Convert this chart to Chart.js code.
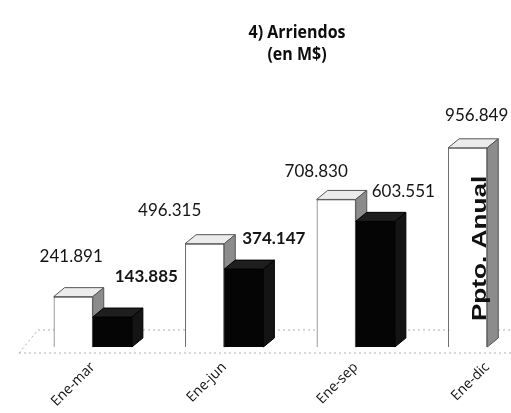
<!DOCTYPE html>
<html><head><meta charset="utf-8">
<script src="https://cdn.jsdelivr.net/npm/chart.js@4.4.1/dist/chart.umd.min.js"></script>
<style>
html,body{margin:0;padding:0;background:#fff;overflow:hidden;}
#wrap{width:511px;height:413px;overflow:hidden;position:relative;background:#fff;}
canvas{display:block;}
</style></head><body>
<div id="wrap"><canvas id="c" width="560" height="413"></canvas></div>
<script>
// Arriendos acumulados (en M$)
const periodos = ['Ene-mar', 'Ene-jun', 'Ene-sep', 'Ene-dic'];
const presupuesto = [241891, 496315, 708830, 956849];
const ejecutado = [143885, 374147, 603551, null];
const tituloLineas = ['4) Arriendos', '(en M$)'];
const rotuloAnual = 'Ppto. Anual';

const DX = 11, DY = 9; // profundidad de las caras 3D

function fmt(v) {
  return String(Math.round(v)).replace(/\B(?=(\d{3})+(?!\d))/g, '.');
}

function caras(ctx, bar, st) {
  const { x, y, base, width } = bar.getProps(['x', 'y', 'base', 'width'], true);
  const l = x - width / 2, r = x + width / 2;
  ctx.save();
  ctx.lineWidth = 1;
  ctx.strokeStyle = st.borde;
  ctx.beginPath();
  ctx.moveTo(l, y); ctx.lineTo(l + DX, y - DY); ctx.lineTo(r + DX, y - DY); ctx.lineTo(r, y);
  ctx.closePath();
  ctx.fillStyle = st.tapa; ctx.fill(); ctx.stroke();
  ctx.beginPath();
  ctx.moveTo(r, y); ctx.lineTo(r + DX, y - DY); ctx.lineTo(r + DX, base - DY); ctx.lineTo(r, base);
  ctx.closePath();
  ctx.fillStyle = st.lado; ctx.fill(); ctx.stroke();
  ctx.restore();
}

// piso, caras superior y lateral de cada barra
const caras3d = {
  id: 'caras3d',
  beforeDatasetsDraw(chart) {
    const { ctx, chartArea: a } = chart;
    ctx.save();
    ctx.strokeStyle = '#b0b0b0';
    ctx.lineWidth = 1;
    ctx.setLineDash([2, 3]);
    ctx.beginPath();
    ctx.moveTo(a.left + DX, a.bottom - DY - 8);
    ctx.lineTo(a.right, a.bottom - DY - 8);
    ctx.stroke();
    ctx.beginPath();
    ctx.moveTo(a.left - 8, a.bottom + 6);
    ctx.lineTo(a.right, a.bottom + 6);
    ctx.stroke();
    ctx.beginPath();
    ctx.moveTo(a.left - 8, a.bottom + 6);
    ctx.lineTo(a.left + DX, a.bottom - DY - 8);
    ctx.stroke();
    ctx.restore();
  },
  afterDatasetsDraw(chart, args, opts) {
    const ctx = chart.ctx;
    const blancas = chart.getDatasetMeta(0);
    const negras = chart.getDatasetMeta(1);
    blancas.data.forEach((bar, i) => {
      if (presupuesto[i] != null) caras(ctx, bar, opts.estilos[0]);
    });
    // las barras negras van delante de la cara lateral de las blancas
    negras.data.forEach((bar, i) => {
      if (ejecutado[i] == null) return;
      bar.draw(ctx);
      caras(ctx, bar, opts.estilos[1]);
    });
  }
};

// títulos, valores y rótulo del presupuesto anual
const textos = {
  id: 'textos',
  afterDraw(chart, args, opts) {
    const ctx = chart.ctx;
    ctx.save();
    ctx.fillStyle = '#0d0d0d';
    ctx.textAlign = 'center';
    ctx.textBaseline = 'middle';
    ctx.font = "bold 17px 'Open Sans', sans-serif";
    const ancho0 = ctx.measureText(tituloLineas[0]).width;
    const esc = opts.tituloAncho / ancho0;
    tituloLineas.forEach((t, k) => {
      ctx.save();
      ctx.translate(opts.tituloX, opts.tituloY[k]);
      ctx.scale(esc, 1);
      ctx.fillText(t, 0, 0);
      ctx.restore();
    });

    chart.data.datasets.forEach((ds, di) => {
      const meta = chart.getDatasetMeta(di);
      const st = opts.valores[di];
      meta.data.forEach((bar, i) => {
        const v = ds.data[i];
        if (v == null) return;
        const d = st.desplaza[i];
        ctx.font = (st.negrita[i] ? 'bold ' : '') + "17px Lato, 'Open Sans', sans-serif";
        ctx.fillStyle = '#141414';
        ctx.fillText(fmt(v), bar.x + d[0], bar.y + d[1]);
      });
    });

    // rótulo vertical sobre la barra anual
    const ult = chart.getDatasetMeta(0).data[presupuesto.length - 1];
    const largo = (ult.base - ult.y) * 0.73;
    ctx.translate(ult.x + 13, (ult.y + ult.base) / 2 + 1);
    ctx.rotate(-Math.PI / 2);
    ctx.font = "bold 20px 'Liberation Sans', Arial, sans-serif";
    const w = ctx.measureText(rotuloAnual).width;
    ctx.scale(largo / w, 1);
    ctx.fillStyle = '#111';
    ctx.fillText(rotuloAnual, 0, 0);
    ctx.restore();
  }
};

new Chart(document.getElementById('c'), {
  type: 'bar',
  data: {
    labels: periodos,
    datasets: [
      {
        label: 'Presupuesto',
        data: presupuesto,
        backgroundColor: '#ffffff',
        borderColor: '#444',
        borderWidth: 1
      },
      {
        label: 'Ejecutado',
        data: ejecutado,
        backgroundColor: '#050505',
        borderWidth: 0
      }
    ]
  },
  options: {
    responsive: false,
    animation: false,
    layout: { padding: { left: 27, right: 7, top: 118, bottom: 0 } },
    datasets: { bar: { categoryPercentage: 0.595, barPercentage: 1.0 } },
    plugins: {
      legend: { display: false },
      tooltip: { enabled: false },
      title: { display: false },
      caras3d: {
        estilos: [
          { tapa: '#ececec', lado: '#8c8c8c', borde: '#555' },
          { tapa: '#1e1e1e', lado: '#141414', borde: '#000' }
        ]
      },
      textos: {
        tituloX: 297,
        tituloY: [33, 55],
        tituloAncho: 97,
        valores: [
          { negrita: [false, false, false, false], desplaza: [[-2, -40], [-35, -33], [-20, -28], [9, -32]] },
          { negrita: [true, true, false], desplaza: [[34, -41], [30, -31], [28, -30]] }
        ]
      }
    },
    scales: {
      x: {
        grid: { display: false, drawTicks: false },
        border: { display: false },
        ticks: {
          maxRotation: 45, minRotation: 45,
          padding: 12,
          color: '#111',
          font: { family: "'Open Sans', Lato, sans-serif", size: 14 }
        },
        afterFit(scale) { scale.height = 66; }
      },
      y: { display: false, min: 0, max: 1100000 }
    }
  },
  plugins: [caras3d, textos]
});
</script>
</body></html>
